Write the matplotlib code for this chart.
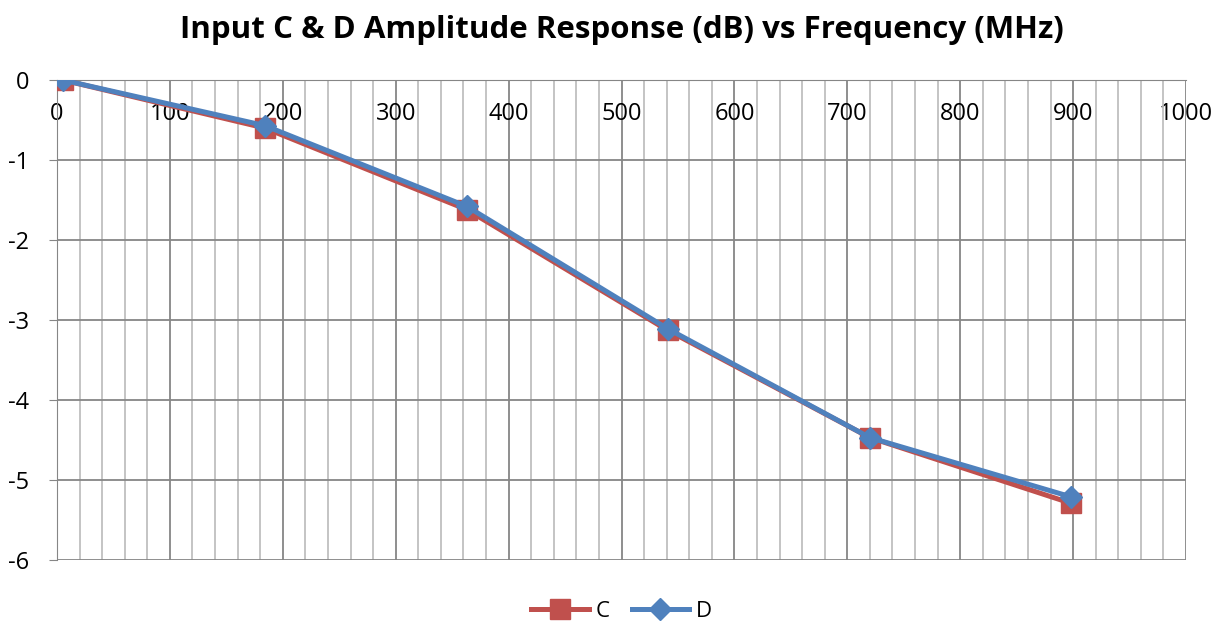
import matplotlib
matplotlib.use("Agg")
import matplotlib.pyplot as plt
from matplotlib.ticker import MultipleLocator

plt.rcParams['font.family'] = ['Open Sans', 'DejaVu Sans']
plt.rcParams['axes.unicode_minus'] = False

# frequency (MHz) and amplitude (dB)
freq = [5, 184, 363, 541, 720, 898]
amp_c = [0.0, -0.60, -1.62, -3.13, -4.47, -5.29]
amp_d = [0.0, -0.57, -1.58, -3.11, -4.47, -5.21]

x_ticks = [0, 100, 200, 300, 400, 500, 600, 700, 800, 900, 1000]
y_ticks = [0, -1, -2, -3, -4, -5, -6]

fig = plt.figure(figsize=(12.13, 6.25), dpi=100)
ax = fig.add_axes([57 / 1213, 65 / 625, 1129 / 1213, 480 / 625])

ax.plot(freq, amp_c, color='#C0504D', lw=3.6, marker='s', ms=14,
        label='C', zorder=3)
ax.plot(freq, amp_d, color='#4F81BD', lw=3.6, marker='D', ms=11,
        label='D', zorder=4)

ax.set_xlim(0, 1000)
ax.set_ylim(-6, 0)
ax.set_xticks(x_ticks)
ax.set_yticks(y_ticks)
ax.xaxis.set_minor_locator(MultipleLocator(20))

ax.grid(which='major', axis='both', color='#868686', lw=1.3, zorder=0)
ax.grid(which='minor', axis='x', color='#BFBFBF', lw=1.3, zorder=0)
ax.set_axisbelow(True)

ax.spines['bottom'].set_position(('data', 0))
ax.spines['bottom'].set_color('#868686')
ax.spines['left'].set_color('#868686')
ax.spines['top'].set_visible(False)
ax.spines['right'].set_visible(False)

ax.tick_params(axis='x', which='both', length=0, labelsize=17, pad=16)
ax.tick_params(axis='y', length=6, color='#868686', labelsize=17, pad=14)

ax.set_title('Input C & D Amplitude Response (dB) vs Frequency (MHz)',
             fontsize=22.5, fontweight='bold', pad=30)

ax.legend(loc='upper center', bbox_to_anchor=(0.5, -0.08), ncol=2,
          frameon=False, fontsize=16, handlelength=2.6, columnspacing=1.0,
          handletextpad=0.3, borderaxespad=0.0, borderpad=0.1)

fig.savefig('out.png', dpi=100)
